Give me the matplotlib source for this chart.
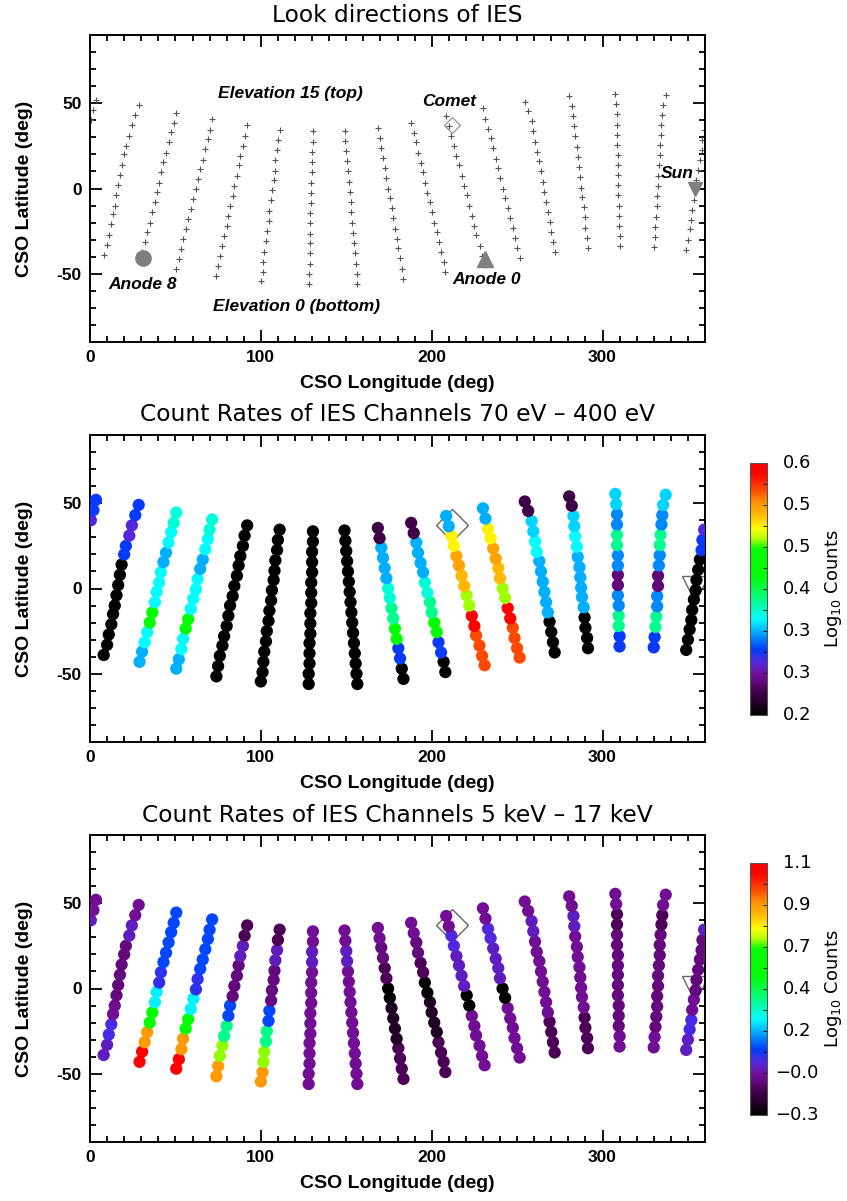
import numpy as np
import matplotlib
matplotlib.use('Agg')
import matplotlib.pyplot as plt
from matplotlib.colors import LinearSegmentedColormap, Normalize
from matplotlib.cm import ScalarMappable
from matplotlib.ticker import MultipleLocator, FixedLocator, NullFormatter

plt.rcParams['font.family'] = ['Liberation Sans', 'DejaVu Sans']
plt.rcParams['axes.unicode_minus'] = False

# look directions per anode column, elevation 0 (bottom) -> 15 (top), deg
look_lon = [
    [8, 10, 11, 12.5, 13.5, 14.5, 15.5, 16.5, 17.5, 18.5, 20, 21, 23, 24.5, 26.5, 28.5],
    [29, 30.5, 32, 33.5, 35, 36.5, 38, 39, 40.5, 41.5, 43, 44.5, 46, 47.5, 49, 50.5],
    [50.5, 52, 53.5, 54.5, 56, 57.5, 59, 60.5, 62, 63, 64.5, 66, 67.5, 69, 70, 71.5],
    [74, 75, 76, 77.5, 78.5, 80, 81, 82, 83.5, 84.5, 86, 87, 88, 89.5, 90.5, 92],
    [100, 101, 101.5, 102, 103, 103.5, 104.5, 105, 106, 106.5, 107.5, 108, 108.5, 109.5, 110, 111],
    [128, 128, 128.5, 128.5, 128.5, 129, 129, 129, 129.5, 129.5, 129.5, 130, 130, 130, 130.5, 130.5],
    [156.5, 156, 155.5, 155, 154.5, 154, 153.5, 153, 152.5, 152, 151.5, 151, 150.5, 150, 149.5, 149],
    [183.5, 182.5, 181.5, 180.5, 179.5, 178.5, 177.5, 176.5, 175.5, 174.5, 173.5, 172.5, 171.5, 170.5, 169.5, 168.5],
    [208, 207, 205.5, 204, 203, 201.5, 200, 199, 197.5, 196, 195, 193.5, 192, 191, 189.5, 188],
    [231, 229.5, 228, 226, 225, 223.5, 222, 220.5, 219, 217.5, 216, 214.5, 213, 211.5, 210, 208.5],
    [251.5, 250, 248.5, 247.5, 246, 244.5, 243, 241.5, 240, 239, 237.5, 236, 234.5, 233, 231.5, 230],
    [272, 271, 270, 269, 268, 267, 266, 265, 264, 263, 261.5, 260.5, 259.5, 258.5, 256.5, 254.5],
    [291.5, 291, 290, 289.5, 289, 288, 287.5, 287, 286.5, 285.5, 285, 284, 283.5, 283, 282, 280.5],
    [310, 310, 309.5, 309.5, 309.5, 309, 309, 309, 309, 309, 308.5, 308.5, 308.5, 308.5, 308, 307.5],
    [330, 330.5, 331, 331.5, 332, 332, 332.5, 332.5, 333, 333.5, 333.5, 334, 334.5, 335, 335.5, 337],
    [349, 350, 351, 352, 352.5, 353.5, 354.5, 355, 356, 357, 358, 358.5, 359.5, 360.5, 362, 363.5],
]
look_lat = [
    [-39, -33, -27, -21, -15, -10, -4, 2, 8, 14, 20, 25, 31, 37, 43, 49],
    [-43, -37, -31.5, -25.5, -20, -14, -8, -2, 3.5, 9.5, 15.5, 21, 27, 33, 38.5, 44.5],
    [-47, -41.5, -35.5, -29.5, -23.5, -18, -12, -6, -0.5, 5.5, 11.5, 17, 23, 29, 34.5, 40.5],
    [-51.5, -45.5, -39.5, -33.5, -28, -22, -16, -10, -4.5, 1.5, 7.5, 13.5, 19, 25, 31, 37],
    [-54.5, -49, -43, -37, -31, -25, -19, -13, -7, -1, 5, 10.5, 16.5, 22.5, 28.5, 34.5],
    [-56, -50, -44, -38, -32, -26.5, -20.5, -14.5, -8.5, -2.5, 3.5, 9.5, 15.5, 21.5, 27.5, 33.5],
    [-56, -50, -44, -38, -32, -26, -20, -14, -8, -2, 4, 10, 16, 22, 28, 34],
    [-53, -47, -41, -35, -29.5, -23.5, -17.5, -11.5, -5.5, 0, 6, 12, 18, 24, 29.5, 35.5],
    [-49, -43, -37.5, -31.5, -25.5, -20, -14, -8, -2.5, 3.5, 9.5, 15, 21, 27, 32.5, 38.5],
    [-45, -39.5, -33.5, -27.5, -22, -16, -10, -4, 1.5, 7.5, 13.5, 19, 25, 31, 36.5, 42.5],
    [-40.5, -35, -29, -23, -17.5, -11.5, -5.5, 0, 6, 12, 17.5, 23.5, 29.5, 35, 41, 47],
    [-37.5, -31.5, -25.5, -19.5, -14, -8, -2, 4, 10, 16, 21.5, 27.5, 33.5, 39.5, 45.5, 51],
    [-35, -29, -23, -17, -11, -5, 0.5, 6.5, 12.5, 18.5, 24.5, 30.5, 36.5, 42.5, 48.5, 54],
    [-34, -28, -22, -16, -10, -4, 2, 8, 13.5, 19.5, 25.5, 31.5, 37.5, 43.5, 49.5, 55.5],
    [-34.5, -28.5, -22.5, -16.5, -10.5, -4.5, 1.5, 7.5, 13.5, 19.5, 25.5, 31.5, 37.5, 43, 49, 55],
    [-36, -30, -24, -18.5, -12.5, -6.5, -1, 5, 11, 17, 22.5, 28.5, 34.5, 40, 46, 52],
]

# log10 counts, 70 eV - 400 eV
low_counts = [
    [0.20, 0.20, 0.20, 0.20, 0.20, 0.20, 0.20, 0.20, 0.20, 0.20, 0.31, 0.31, 0.29, 0.29, 0.31, 0.31],
    [0.34, 0.34, 0.36, 0.36, 0.45, 0.45, 0.36, 0.36, 0.36, 0.36, 0.34, 0.34, 0.36, 0.36, 0.37, 0.37],
    [0.34, 0.34, 0.36, 0.36, 0.45, 0.45, 0.36, 0.36, 0.36, 0.36, 0.34, 0.34, 0.36, 0.36, 0.37, 0.37],
    [0.20, 0.20, 0.20, 0.20, 0.20, 0.20, 0.20, 0.20, 0.20, 0.20, 0.20, 0.20, 0.20, 0.20, 0.20, 0.20],
    [0.20, 0.20, 0.20, 0.20, 0.20, 0.20, 0.20, 0.20, 0.20, 0.20, 0.20, 0.20, 0.20, 0.20, 0.20, 0.20],
    [0.20, 0.20, 0.20, 0.20, 0.20, 0.20, 0.20, 0.20, 0.20, 0.20, 0.20, 0.20, 0.20, 0.20, 0.20, 0.20],
    [0.20, 0.20, 0.20, 0.20, 0.20, 0.20, 0.20, 0.20, 0.20, 0.20, 0.20, 0.20, 0.20, 0.20, 0.20, 0.20],
    [0.20, 0.20, 0.31, 0.31, 0.45, 0.45, 0.39, 0.39, 0.37, 0.37, 0.34, 0.34, 0.34, 0.34, 0.24, 0.24],
    [0.20, 0.20, 0.31, 0.31, 0.45, 0.45, 0.39, 0.39, 0.37, 0.37, 0.34, 0.34, 0.34, 0.34, 0.24, 0.24],
    [0.57, 0.57, 0.57, 0.57, 0.60, 0.60, 0.49, 0.49, 0.53, 0.53, 0.54, 0.54, 0.51, 0.51, 0.34, 0.34],
    [0.57, 0.57, 0.57, 0.57, 0.60, 0.60, 0.49, 0.49, 0.53, 0.53, 0.54, 0.54, 0.51, 0.51, 0.34, 0.34],
    [0.20, 0.20, 0.20, 0.20, 0.34, 0.34, 0.34, 0.34, 0.34, 0.34, 0.36, 0.36, 0.35, 0.35, 0.24, 0.24],
    [0.20, 0.20, 0.20, 0.20, 0.34, 0.34, 0.34, 0.34, 0.34, 0.34, 0.36, 0.36, 0.35, 0.35, 0.24, 0.24],
    [0.31, 0.31, 0.39, 0.39, 0.33, 0.33, 0.26, 0.26, 0.33, 0.33, 0.39, 0.39, 0.33, 0.33, 0.35, 0.35],
    [0.31, 0.31, 0.39, 0.39, 0.33, 0.33, 0.26, 0.26, 0.33, 0.33, 0.39, 0.39, 0.33, 0.33, 0.35, 0.35],
    [0.20, 0.20, 0.20, 0.20, 0.20, 0.20, 0.20, 0.20, 0.20, 0.20, 0.31, 0.31, 0.29, 0.29, 0.31, 0.31],
]

# log10 counts, 5 keV - 17 keV
high_counts = [
    [-0.01, -0.01, 0.03, 0.03, -0.05, -0.05, -0.08, -0.08, -0.08, -0.08, -0.08, -0.08, -0.01, -0.01, -0.05, -0.05],
    [1.09, 1.09, 0.90, 0.90, 0.57, 0.57, 0.25, 0.25, 0.05, 0.05, 0.10, 0.10, 0.10, 0.10, 0.10, 0.10],
    [1.09, 1.09, 0.90, 0.90, 0.57, 0.57, 0.25, 0.25, 0.05, 0.05, 0.10, 0.10, 0.10, 0.10, 0.10, 0.10],
    [0.90, 0.90, 0.70, 0.70, 0.37, 0.37, 0.10, 0.10, -0.08, -0.08, -0.08, -0.08, -0.01, -0.01, -0.13, -0.13],
    [0.90, 0.90, 0.70, 0.70, 0.37, 0.37, 0.10, 0.10, -0.08, -0.08, -0.08, -0.08, -0.01, -0.01, -0.13, -0.13],
    [-0.05, -0.05, -0.05, -0.05, -0.05, -0.05, -0.05, -0.05, -0.05, -0.05, -0.05, -0.05, -0.01, -0.01, -0.05, -0.05],
    [-0.05, -0.05, -0.05, -0.05, -0.05, -0.05, -0.05, -0.05, -0.05, -0.05, -0.05, -0.05, -0.01, -0.01, -0.05, -0.05],
    [-0.13, -0.13, -0.13, -0.13, -0.21, -0.21, -0.21, -0.21, -0.28, -0.28, -0.13, -0.13, -0.08, -0.08, -0.05, -0.05],
    [-0.13, -0.13, -0.13, -0.13, -0.21, -0.21, -0.21, -0.21, -0.28, -0.28, -0.13, -0.13, -0.08, -0.08, -0.05, -0.05],
    [-0.05, -0.05, -0.05, -0.05, -0.05, -0.05, -0.28, -0.28, -0.01, -0.01, -0.01, -0.01, 0.02, 0.02, -0.05, -0.05],
    [-0.05, -0.05, -0.05, -0.05, -0.05, -0.05, -0.28, -0.28, -0.01, -0.01, -0.01, -0.01, 0.02, 0.02, -0.05, -0.05],
    [-0.13, -0.13, -0.13, -0.13, -0.05, -0.05, -0.05, -0.05, -0.05, -0.05, -0.05, -0.05, -0.01, -0.01, -0.05, -0.05],
    [-0.13, -0.13, -0.13, -0.13, -0.05, -0.05, -0.05, -0.05, -0.05, -0.05, -0.05, -0.05, -0.01, -0.01, -0.05, -0.05],
    [-0.05, -0.05, -0.08, -0.08, -0.08, -0.08, -0.08, -0.08, -0.08, -0.08, -0.08, -0.08, -0.13, -0.13, -0.05, -0.05],
    [-0.05, -0.05, -0.08, -0.08, -0.08, -0.08, -0.08, -0.08, -0.08, -0.08, -0.08, -0.08, -0.13, -0.13, -0.05, -0.05],
    [-0.01, -0.01, 0.03, 0.03, -0.05, -0.05, -0.08, -0.08, -0.08, -0.08, -0.08, -0.08, -0.01, -0.01, -0.05, -0.05],
]

low_range = (0.205, 0.613)
high_range = (-0.275, 1.135)
low_ticklabels = ['0.2', '0.3', '0.3', '0.4', '0.5', '0.5', '0.6']
high_ticklabels = ['\u22120.3', '\u22120.0', '0.2', '0.4', '0.7', '0.9', '1.1']

comet_lon, comet_lat = 212, 37
sun_lon, sun_lat = 354, 0
anode8_lon, anode8_lat = 31, -41
anode0_lon, anode0_lat = 231, -41.5

# rainbow-like table (black -> purple -> blue -> cyan -> green -> yellow -> red)
anchors = [
    (0.00, (0, 0, 0)), (0.10, (75, 0, 85)), (0.16, (115, 15, 150)),
    (0.21, (80, 40, 225)), (0.26, (0, 60, 255)), (0.32, (0, 160, 255)),
    (0.38, (0, 255, 255)), (0.47, (0, 255, 120)), (0.55, (0, 255, 0)),
    (0.66, (0, 255, 0)), (0.70, (170, 255, 0)), (0.74, (255, 255, 0)),
    (0.79, (255, 190, 0)), (0.84, (255, 150, 0)), (0.90, (255, 70, 0)),
    (0.96, (255, 0, 0)), (1.00, (255, 0, 0)),
]
cmap = LinearSegmentedColormap.from_list(
    'idl_rainbow', [(f, tuple(c / 255 for c in rgb)) for f, rgb in anchors])
cmap.set_under('black')
cmap.set_over('red')

fig = plt.figure(figsize=(8.47, 12.01), dpi=100)
W, H = 847.0, 1201.0
tops = [35, 435, 835]
titles = ['Look directions of IES',
          'Count Rates of IES Channels 70 eV \u2013 400 eV',
          'Count Rates of IES Channels 5 keV \u2013 17 keV']
axes = []
for top, title in zip(tops, titles):
    ax = fig.add_axes([90 / W, 1 - (top + 307) / H, 615 / W, 307 / H])
    ax.set_xlim(0, 360)
    ax.set_ylim(-90, 90)
    ax.xaxis.set_major_locator(FixedLocator([0, 100, 200, 300]))
    ax.xaxis.set_minor_locator(MultipleLocator(10))
    ax.yaxis.set_major_locator(FixedLocator([-50, 0, 50]))
    ax.yaxis.set_minor_locator(MultipleLocator(10))
    ax.tick_params(which='both', direction='in', top=True, right=True, width=1.3)
    ax.tick_params(which='major', length=8.5, labelsize=12.5, pad=6)
    ax.tick_params(which='minor', length=4.3)
    for lab in ax.get_xticklabels() + ax.get_yticklabels():
        lab.set_fontweight('bold')
    for sp in ax.spines.values():
        sp.set_linewidth(1.4)
    ax.set_xlabel('CSO Longitude (deg)', fontsize=14, fontweight='bold', va='center')
    ax.xaxis.set_label_coords(0.5, -0.134)
    ax.set_ylabel('CSO Latitude (deg)', fontsize=14, fontweight='bold', va='center')
    ax.yaxis.set_label_coords(-0.107, 0.5)
    fig.text(397.5 / W, 1 - (top - 20) / H, title, ha='center', va='center',
             fontsize=16.8, family='DejaVu Sans')
    axes.append(ax)

# top panel: look directions
ax = axes[0]
for lon, lat in zip(look_lon, look_lat):
    ax.plot(np.mod(lon, 360), lat, '+', color='#555555', ms=4.8, mew=0.8, ls='none')
ax.plot(comet_lon, comet_lat, 'D', mfc='none', mec='#888888', ms=8.5, mew=0.8)
ax.plot(anode8_lon, anode8_lat, 'o', color='#7f7f7f', ms=11)
ax.plot(anode0_lon, anode0_lat, '^', color='#7f7f7f', ms=11)
ax.plot(sun_lon, sun_lat, 'v', color='#7f7f7f', ms=10)
ann = dict(fontsize=12.5, fontweight='bold', style='italic', ha='center', va='center')
ax.text(117, 55.7, 'Elevation 15 (top)', **ann)
ax.text(121, -69.3, 'Elevation 0 (bottom)', **ann)
ax.text(30.7, -56, 'Anode 8', **ann)
ax.text(210.5, 51.3, 'Comet', **ann)
ax.text(232.4, -53.6, 'Anode 0', **ann)
ax.text(344, 8.8, 'Sun', **ann)

# count-rate panels
for ax, counts, rng, labels, top in zip(axes[1:], [low_counts, high_counts],
                                        [low_range, high_range],
                                        [low_ticklabels, high_ticklabels], tops[1:]):
    ax.plot(comet_lon, comet_lat, 'D', mfc='none', mec='#666666', ms=16.8, mew=1.0, zorder=2)
    ax.plot(sun_lon, sun_lat, 'v', mfc='none', mec='#666666', ms=19, mew=1.0, zorder=2)
    for lon, lat, c in zip(look_lon, look_lat, counts):
        ax.scatter(np.mod(lon, 360), lat, c=c, cmap=cmap, vmin=rng[0], vmax=rng[1],
                   s=78, linewidths=0, zorder=3)
    cax = fig.add_axes([750 / W, 1 - (top + 280) / H, 17 / W, 252 / H])
    sm = ScalarMappable(norm=Normalize(rng[0], rng[1]), cmap=cmap)
    cb = fig.colorbar(sm, cax=cax)
    cb.set_ticks(np.linspace(rng[0], rng[1], 7))
    cax.yaxis.set_major_formatter(NullFormatter())
    cax.yaxis.set_minor_locator(FixedLocator(np.linspace(rng[0], rng[1], 13)))
    cax.tick_params(which='both', direction='in', length=3, width=0.6)
    for i, lab in enumerate(labels):
        cax.text(47 / 17, i / 6, lab, transform=cax.transAxes, ha='center', va='center',
                 fontsize=13, family='DejaVu Sans')
    cb.outline.set_linewidth(0.8)
    cb.outline.set_edgecolor('#555555')
    fig.text(833 / W, 1 - (top + 154) / H, 'Log$_{10}$ Counts', rotation=90,
             ha='center', va='center', fontsize=13, family='DejaVu Sans')

fig.savefig('out.png', dpi=100)
